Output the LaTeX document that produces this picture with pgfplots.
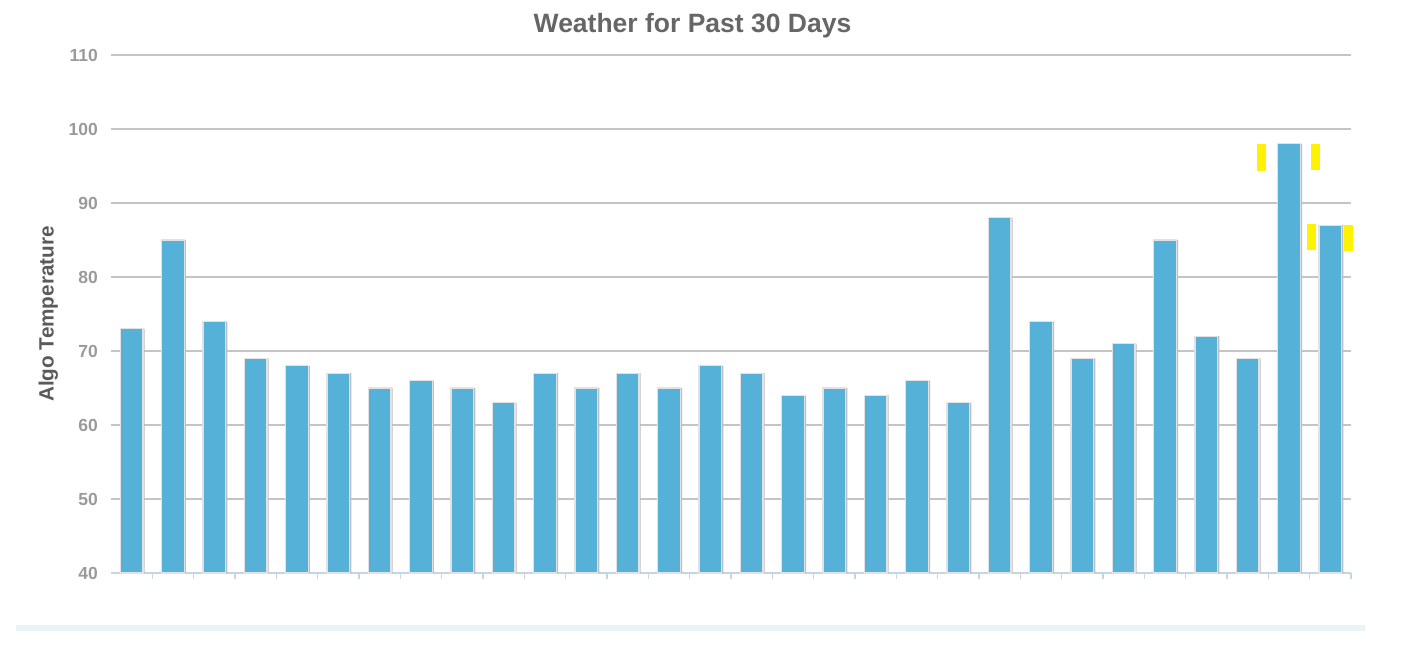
\documentclass[border=0pt]{standalone}
\usepackage{pgfplots}
\pgfplotsset{compat=1.18}
\usepackage{fontspec}
\setmainfont{Liberation Sans}
\definecolor{barblue}{HTML}{56B1D9}
\definecolor{gridgray}{HTML}{C4C4C4}
\definecolor{axisblue}{HTML}{C6D4E4}
\definecolor{ticklab}{HTML}{9A9A9A}
\definecolor{titlegray}{HTML}{666666}
\definecolor{labgray}{HTML}{5A5A5A}
\definecolor{stripc}{HTML}{EAF4F7}
\definecolor{shadowc}{HTML}{BDBDBD}
\definecolor{glow}{HTML}{E2E2E2}
\begin{document}
\begin{tikzpicture}
\useasboundingbox (-111pt,-81pt) rectangle (1308pt,573pt);
\fill[stripc] (-95pt,-52pt) rectangle (1254pt,-58pt);
\begin{axis}[
  at={(0pt,0pt)}, anchor=south west,
  scale only axis, width=1240pt, height=518pt,
  xmin=-0.5, xmax=29.5, ymin=40, ymax=110,
  clip=false,
  ytick={40,50,60,70,80,90,100,110},
  xtick={0.5,1.5,2.5,3.5,4.5,5.5,6.5,7.5,8.5,9.5,10.5,11.5,12.5,13.5,14.5,15.5,16.5,17.5,18.5,19.5,20.5,21.5,22.5,23.5,24.5,25.5,26.5,27.5,28.5,29.5},
  xticklabels={},
  ymajorgrids, grid style={gridgray, line width=1.3pt},
  axis x line*=bottom, axis y line*=left,
  y axis line style={draw=none},
  x axis line style={axisblue, line width=1.5pt},
  tick align=outside, major tick length=6pt,
  xtick style={axisblue, line width=1.5pt},
  ytick style={draw=none},
  /pgf/number format/assume math mode=true,
  yticklabel style={font=\fontsize{17.5}{20}\selectfont\bfseries, text=ticklab, inner sep=0pt, xshift=-7pt},
  title={Weather for Past 30 Days},
  title style={at={(0.469,1)}, anchor=base, yshift=17pt, font=\fontsize{26.5}{30}\selectfont\bfseries, text=titlegray},
  ylabel={Algo Temperature},
  ylabel style={at={(axis description cs:-0.0505,0.5)}, anchor=center, font=\fontsize{20.7}{24}\selectfont\bfseries, text=labgray},
]
\addplot[ybar, bar width=21pt, bar shift=2.5pt, fill=shadowc, draw=none] coordinates {
(0,73) (1,85) (2,74) (3,69) (4,68) (5,67) (6,65) (7,66) (8,65) (9,63)
(10,67) (11,65) (12,67) (13,65) (14,68) (15,67) (16,64) (17,65) (18,64) (19,66)
(20,63) (21,88) (22,74) (23,69) (24,71) (25,85) (26,72) (27,69) (28,98) (29,87)};
\addplot[ybar, bar width=22.5pt, bar shift=0pt, fill=barblue, draw=glow, line width=1.2pt] coordinates {
(0,73) (1,85) (2,74) (3,69) (4,68) (5,67) (6,65) (7,66) (8,65) (9,63)
(10,67) (11,65) (12,67) (13,65) (14,68) (15,67) (16,64) (17,65) (18,64) (19,66)
(20,63) (21,88) (22,74) (23,69) (24,71) (25,85) (26,72) (27,69) (28,98) (29,87)};
\fill[yellow] (axis cs:27.23,97.97) rectangle (axis cs:27.45,94.32);
\fill[yellow] (axis cs:28.53,97.97) rectangle (axis cs:28.75,94.45);
\fill[yellow] (axis cs:28.44,87.16) rectangle (axis cs:28.66,83.65);
\fill[yellow] (axis cs:29.33,87.0) rectangle (axis cs:29.55,83.5);
\end{axis}
\end{tikzpicture}
\end{document}
